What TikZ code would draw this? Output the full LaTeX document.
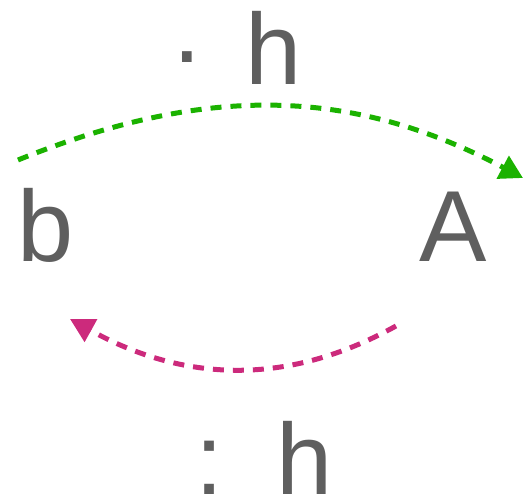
\documentclass[tikz,border=0pt]{standalone}
\usepackage{fontspec}
\setmainfont{Liberation Sans}
\usetikzlibrary{arrows.meta}
\definecolor{labelgray}{RGB}{95,95,95}
\definecolor{fwdgreen}{RGB}{27,178,0}
\definecolor{backpink}{RGB}{204,42,124}

\begin{document}
\begin{tikzpicture}[x=1pt, y=1pt,
    letter/.style={text=labelgray, font=\fontsize{101}{121}\selectfont,
                   inner sep=0pt, anchor=base},
    arr/.style={line width=5pt, dash pattern=on 11pt off 9pt},
    fwd/.style={arr, draw=fwdgreen, -{Triangle[length=23pt, width=25pt]}},
    back/.style={arr, draw=backpink, -{Triangle[length=24pt, width=25pt]}}
  ]
    \useasboundingbox (0,0) rectangle (528,501);
    \node[letter] (b) at (46,239) {b};
    \node[letter] (A) at (453,239) {A};
    \node[letter, anchor=base west] (toplbl) at (170,416) {·\hspace{42pt}h};
    \node[letter, anchor=base west] (botlbl) at (195,6) {:\hspace{53pt}h};

    \coordinate (gs) at (18,341);
    \coordinate (ge) at (523,323);
    \coordinate (ps) at (396,175);
    \coordinate (pe) at (70,182);

    \draw[fwd] (gs) to[out=22, in=152] (ge);
    \draw[back] (ps) to[out=209, in=-29] (pe);
\end{tikzpicture}
\end{document}
